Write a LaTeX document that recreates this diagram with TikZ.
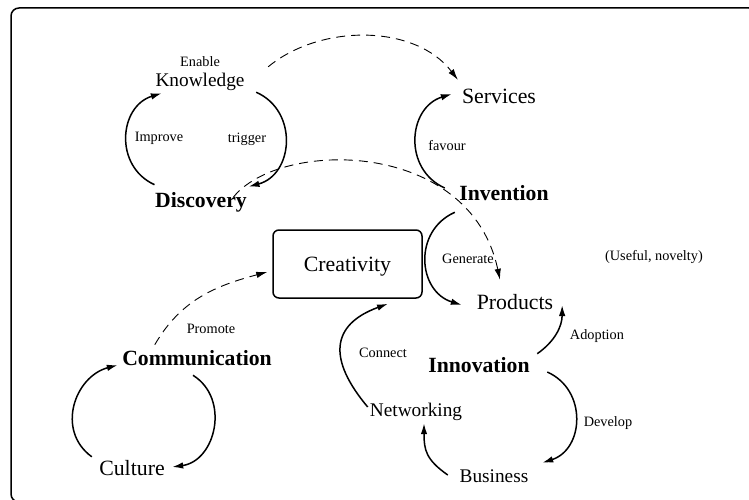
\documentclass[tikz,border=0pt]{standalone}
\usepackage{fontspec}
\setmainfont{Liberation Serif}
\usetikzlibrary{arrows.meta}
\tikzset{>={Latex[length=11pt,width=6.5pt]}}

\begin{document}
\begin{tikzpicture}[x=1pt,y=1pt,
  concept/.style={inner sep=0pt,text height=16.8pt,text depth=2.4pt,font=\fontsize{21.8}{24}\selectfont},
  minor/.style={concept,text height=15.1pt,text depth=1.9pt,font=\fontsize{19.3}{22}\selectfont},
  stage/.style={concept,font=\fontsize{21.7}{24}\selectfont\bfseries},
  action/.style={inner sep=0pt,font=\fontsize{14.3}{16}\selectfont},
  link/.style={line width=1.5pt,->},
  cue/.style={line width=0.9pt,->,dash pattern=on 9pt off 6pt}]
\useasboundingbox (0,0) rectangle (749,499);
\draw[line width=1.5pt,rounded corners=8pt] (11,-3) rectangle (757,491);

\node[action] (enable) at (200,437) {Enable};
\node[minor] (knowledge) at (200,419) {Knowledge};
\node[action] (improve) at (159,361) {Improve};
\node[action] (trigger) at (247,360) {trigger};
\node[stage] (discovery) at (201,299) {Discovery};
\node[concept] (services) at (499,403) {Services};
\node[action] (favour) at (447,353) {favour};
\node[stage] (invention) at (504,306) {Invention};
\node[concept,draw,line width=1.5pt,rounded corners=6pt,minimum width=149pt,minimum height=68pt] (creativity) at (347.5,235) {Creativity};
\node[action] (generate) at (468,240) {Generate};
\node[concept] (products) at (515,197) {Products};
\node[action] (useful) at (654,242) {(Useful, novelty)};
\node[action] (adoption) at (597,163) {Adoption};
\node[stage] (innovation) at (479,134) {Innovation};
\node[action] (develop) at (608,76) {Develop};
\node[minor] (business) at (494,23) {Business};
\node[minor] (networking) at (416,89) {Networking};
\node[action] (connect) at (383,146) {Connect};
\node[stage] (communication) at (197,141) {Communication};
\node[action] (promote) at (211,170) {Promote};
\node[concept] (culture) at (132,31) {Culture};

\draw[link] ([shift={(11.5,-3.5)}]knowledge.south east) to[out=-24,in=15,looseness=1.26] ([shift={(1.5,3.5)}]discovery.north east);
\draw[link] ([shift={(-0.5,5.5)}]discovery.north west) to[out=155.5,in=197,looseness=1.25] ([shift={(6.5,-4.5)}]knowledge.south west);
\draw[cue] ([shift={(23.5,4.5)}]knowledge.north east) .. controls +(52,43) and +(-43,56) .. ([shift={(-4,6.4)}]services.north west);
\draw[link] ([shift={(-14.4,5)}]invention.west) to[out=156,in=197,looseness=1.25] ([shift={(-10,2)}]services.west);
\draw[cue] ([shift={(-13.5,3)}]discovery.east) .. controls +(47,58) and +(-30,141) .. ([shift={(-15,12.4)}]products.north);
\draw[link] ([shift={(-4.4,-9.5)}]invention.south west) to[out=204,in=163,looseness=1.27] ([shift={(-14.8,-3)}]products.west);
\draw[link] ([shift={(7.4,1.5)}]innovation.north east) to[out=35,in=-90] ([shift={(8.8,-3)}]products.east);
\draw[link] ([shift={(17.4,-7)}]innovation.east) to[out=-24,in=18,looseness=1.24] ([shift={(13.7,4.5)}]business.north east);
\draw[link] ([shift={(-11.7,1)}]business.west) to[out=145,in=-90,looseness=1.2] ([shift={(8,-4.5)}]networking.south);
\draw[link] ([shift={(-2,3)}]networking.west) to[out=130,in=200,looseness=1.5] ([shift={(40.5,-5)}]creativity.south);
\draw[cue] ([shift={(32.75,3.5)}]communication.north west) to[out=60,in=195] ([shift={(-5,-8)}]creativity.west);
\draw[link] ([shift={(-7.3,1.4)}]culture.north west) to[out=144,in=195,looseness=1.2] ([shift={(-4.25,-7)}]communication.west);
\draw[link] ([shift={(-4,-7.5)}]communication.south) to[out=-32,in=8,looseness=1.2] ([shift={(7.3,1)}]culture.east);
\end{tikzpicture}
\end{document}
